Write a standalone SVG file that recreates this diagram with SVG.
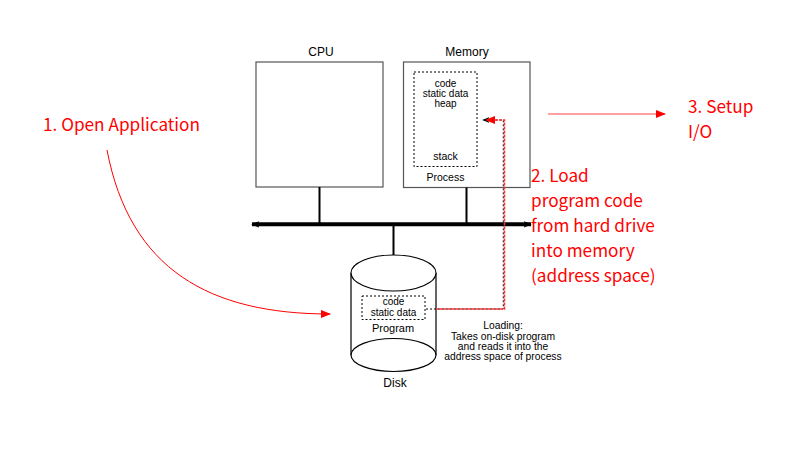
<svg xmlns="http://www.w3.org/2000/svg" width="802" height="455" viewBox="0 0 802 455">
<defs>
<style>
.box{fill:#fff;stroke:#555;stroke-width:1.2}
.dash{fill:none;stroke:#000;stroke-width:1;stroke-dasharray:2,2}
.t{font-family:"Liberation Sans",Arial,sans-serif;fill:#000;text-anchor:middle}
.r{font-family:"Noto Sans CJK KR","Noto Sans",sans-serif;fill:#ff0000;font-size:17.2px}
.wire{stroke:#000;stroke-width:2;fill:none}
</style>
<marker id="bk" viewBox="0 0 10 10" refX="9" refY="5" markerWidth="8" markerHeight="8" orient="auto-start-reverse" markerUnits="userSpaceOnUse"><path d="M0,1 L10,5 L0,9 L2,5 Z" fill="#000"/></marker>
<marker id="bks" viewBox="0 0 10 10" refX="9" refY="5" markerWidth="7" markerHeight="7" orient="auto" markerUnits="userSpaceOnUse"><path d="M0,1 L10,5 L0,9 L2,5 Z" fill="#000"/></marker>
<marker id="rd" viewBox="0 0 10 10" refX="9" refY="5" markerWidth="10" markerHeight="10" orient="auto" markerUnits="userSpaceOnUse"><path d="M0,1 L10,5 L0,9 Z" fill="#ff0000"/></marker>
</defs>
<rect width="802" height="455" fill="#fff"/>

<g id="cpu">
<rect class="box" x="256" y="62" width="127" height="125"/>
<text class="t" x="321" y="56" font-size="12">CPU</text>
</g>

<g id="memory">
<rect class="box" x="403.5" y="62" width="126.5" height="125.5"/>
<text class="t" x="467" y="56" font-size="12">Memory</text>
<rect class="dash" x="414" y="72" width="63" height="94.5"/>
<text class="t" x="445.5" y="87" font-size="10">code</text>
<text class="t" x="445.5" y="97" font-size="10">static data</text>
<text class="t" x="445.5" y="107" font-size="10">heap</text>
<text class="t" x="445.5" y="160" font-size="10.5">stack</text>
<text class="t" x="445.5" y="181" font-size="10.5">Process</text>
</g>

<g id="disk">
<path d="M351,273 L351,355 A42.5,16.5 0 0 0 436,355 L436,273" fill="#fff" stroke="#000" stroke-width="1.2"/>
<ellipse cx="393.5" cy="273" rx="42.5" ry="18" fill="#fff" stroke="#000" stroke-width="1.2"/>
<path d="M351,355 A42.5,16.5 0 0 1 436,355" fill="none" stroke="#000" stroke-width="1.2"/>
<rect class="dash" x="362" y="296" width="63" height="23.5"/>
<text class="t" x="393.5" y="305" font-size="10">code</text>
<text class="t" x="393.5" y="315.5" font-size="10">static data</text>
<text class="t" x="393" y="331.5" font-size="11">Program</text>
<text class="t" x="395" y="387" font-size="12">Disk</text>
</g>

<g id="loading-note">
<text class="t" x="503" y="329" font-size="10.3">Loading:</text>
<text class="t" x="503" y="339.5" font-size="10.3">Takes on-disk program</text>
<text class="t" x="503" y="349.5" font-size="10.3">and reads it into the</text>
<text class="t" x="503" y="359.5" font-size="10.3">address space of process</text>
</g>

<g id="labels">
<text class="r" x="43" y="131">1. Open Application</text>
<text class="r" x="531" y="182">2. Load</text>
<text class="r" x="531" y="207">program code</text>
<text class="r" x="531" y="232">from hard drive</text>
<text class="r" x="531" y="257">into memory</text>
<text class="r" x="531" y="282">(address space)</text>
<text class="r" x="688" y="113">3. Setup</text>
<text class="r" x="688" y="138">I/O</text>
</g>

<g id="connectors">
<line class="wire" x1="319.5" y1="187" x2="319.5" y2="224"/>
<line class="wire" x1="466.5" y1="187.5" x2="466.5" y2="224"/>
<line class="wire" x1="393.5" y1="224" x2="393.5" y2="255"/>
<line x1="252" y1="224.3" x2="531" y2="224.3" stroke="#000" stroke-width="4" marker-start="url(#bk)" marker-end="url(#bk)"/>
<path d="M426,309 L503.3,309 L503.3,120 L483,120" fill="none" stroke="#000" stroke-width="1" stroke-dasharray="2,2" marker-end="url(#bks)"/>
<path d="M436,309 L504.5,309 L504.5,120 L486,120" fill="none" stroke="#ff3333" stroke-width="1.5" stroke-dasharray="3,1" marker-end="url(#rd)"/>
<path d="M107,150 C130,270 210,314 330,314" fill="none" stroke="#ff0000" stroke-width="1" marker-end="url(#rd)"/>
<line x1="548" y1="114" x2="665" y2="114" stroke="#ff4444" stroke-width="1.2" marker-end="url(#rd)"/>
</g>
</svg>
